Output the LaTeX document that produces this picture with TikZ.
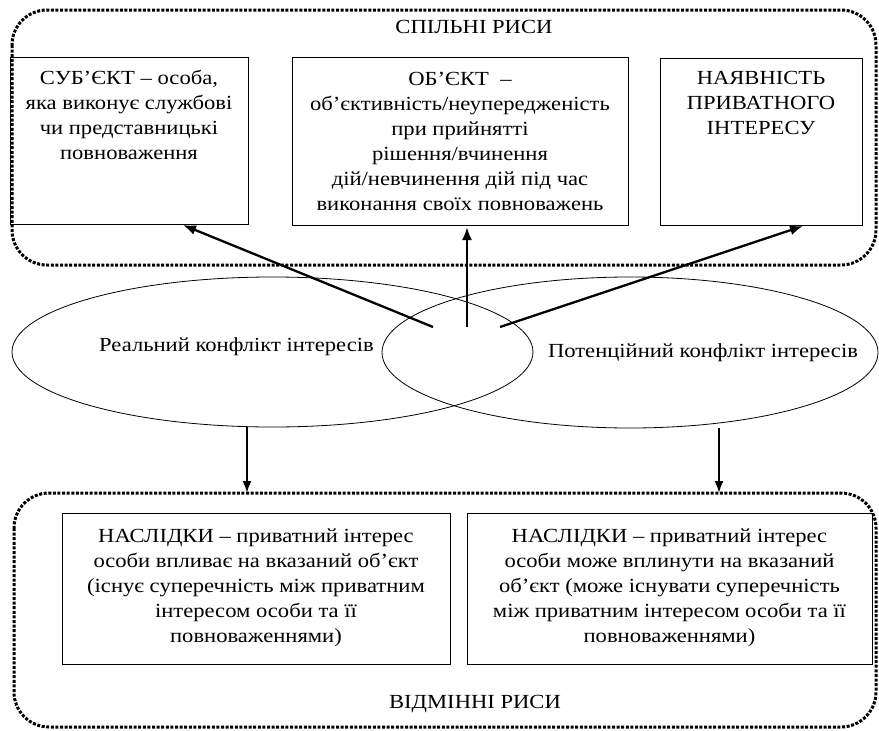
\documentclass[tikz,border=0pt]{standalone}
\usepackage{fontspec}
\setmainfont{Liberation Serif}[FakeStretch=1.13]
\usetikzlibrary{arrows.meta,calc,shapes.geometric}
\newcommand{\firstrule}{\rule{0pt}{16pt}}
\begin{document}
\begin{tikzpicture}[x=1pt,y=-1pt,
  box/.style={draw, line width=0.8pt, inner sep=0pt},
  txt/.style={align=center, font=\fontsize{20}{25}\selectfont, inner sep=0pt, anchor=north},
  lbl/.style={font=\fontsize{20}{23}\selectfont, inner sep=0pt, anchor=base},
  dotb/.style={line width=3pt, dash pattern=on 3pt off 1.6pt, rounded corners=35pt},
  ell/.style={draw, ellipse, line width=0.8pt, inner sep=0pt},
  arr/.style={line width=2.3pt, -{Latex[length=13pt,width=10pt]}},
  varr/.style={line width=2pt, -{Latex[length=12pt,width=9pt]}},
]
\useasboundingbox (0,0) rectangle (879,731);
% top dotted frame
\draw[dotb] (12,10) rectangle (876,265);
\node[lbl] (common) at (474,33.3) {СПІЛЬНІ РИСИ};
% top boxes
\node[box, minimum width=238pt, minimum height=167pt] (b1) at (129,140.5) {};
\node[box, minimum width=336pt, minimum height=168pt] (b2) at (460,141) {};
\node[box, minimum width=202pt, minimum height=167pt] (b3) at (761,141.5) {};
\node[txt] (t1) at ($(b1.north)+(0,12)$) {\firstrule СУБ’ЄКТ – особа,\\ яка виконує службові\\ чи представницькі\\ повноваження};
\node[txt] (t2) at ($(b2.north)+(0,12.5)$) {\firstrule ОБ’ЄКТ \ –\\ об’єктивність/неупередженість\\ при прийнятті\\ рішення/вчинення\\ дій/невчинення дій під час\\ виконання своїх повноважень};
\node[txt] (t3) at ($(b3.north)+(0,11)$) {\firstrule НАЯВНІСТЬ\\ ПРИВАТНОГО\\ ІНТЕРЕСУ};
% ellipses
\node[ell, minimum width=521pt, minimum height=150pt] (e1) at (272.5,352) {};
\node[ell, minimum width=496pt, minimum height=151pt] (e2) at (630,352.5) {};
\node[lbl] (l1) at (236.5,351.7) {Реальний конфлікт інтересів};
\node[lbl] (l2) at (703,357.3) {Потенційний конфлікт інтересів};
% arrow anchors
\coordinate (s1) at (433,327);
\coordinate (s2) at (467,327);
\coordinate (s3) at (500,327);
\coordinate (a1) at (183,225);
\coordinate (a2) at (467,227);
\coordinate (a3) at (803,226);
\draw[arr] (s1) -- (a1);
\draw[arr] (s2) -- (a2);
\draw[arr] (s3) -- (a3);
% bottom dotted frame
\draw[dotb] (14,493) rectangle (876,727);
\coordinate (d1) at (247,427);
\coordinate (d2) at (719,428);
\coordinate (f1) at (247,493);
\coordinate (f2) at (719,493);
\draw[varr] (d1) -- (f1);
\draw[varr] (d2) -- (f2);
% bottom boxes
\node[box, minimum width=388pt, minimum height=151pt] (b4) at (256,588.5) {};
\node[box, minimum width=405pt, minimum height=151pt] (b5) at (669.5,588.5) {};
\node[txt] (t4) at ($(b4.north)+(0,13.3)$) {\firstrule НАСЛІДКИ – приватний інтерес\\ особи впливає на вказаний об’єкт\\ (існує суперечність між приватним\\ інтересом особи та її\\ повноваженнями)};
\node[txt] (t5) at ($(b5.north)+(0,13.3)$) {\firstrule НАСЛІДКИ – приватний інтерес\\ особи може вплинути на вказаний\\ об’єкт (може існувати суперечність\\ між приватним інтересом особи та її\\ повноваженнями)};
\node[lbl] (diff) at (475,708) {ВІДМІННІ РИСИ};
\end{tikzpicture}
\end{document}
